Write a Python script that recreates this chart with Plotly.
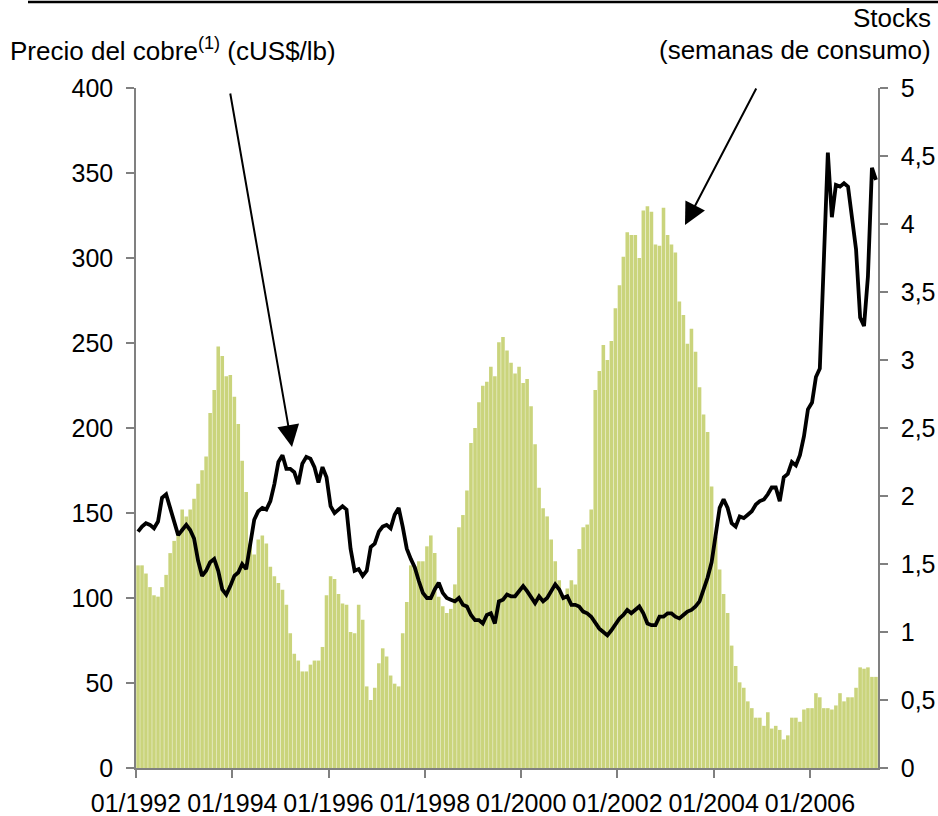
import pandas as pd
import plotly.graph_objects as go

# Stocks (semanas de consumo), monthly from 01/1992 to 05/2007
stocks = [
    1.49, 1.49, 1.43, 1.33, 1.27, 1.26, 1.33, 1.42, 1.58, 1.67, 1.73, 1.90,
    1.85, 1.90, 1.98, 2.09, 2.19, 2.29, 2.61, 2.78, 3.10, 3.03, 2.88, 2.89,
    2.73, 2.53, 2.26, 2.03, 1.65, 1.57, 1.68, 1.71, 1.65, 1.48, 1.41, 1.36,
    1.31, 1.20, 0.99, 0.84, 0.79, 0.71, 0.71, 0.76, 0.79, 0.79, 0.89, 1.27,
    1.41, 1.39, 1.28, 1.21, 1.20, 1.00, 0.99, 1.20, 1.09, 0.60, 0.50, 0.59,
    0.77, 0.88, 0.82, 0.68, 0.62, 0.60, 0.99, 1.22, 1.49, 1.48, 1.52, 1.52,
    1.63, 1.71, 1.58, 1.26, 1.19, 1.14, 1.17, 1.35, 1.77, 1.86, 2.04, 2.39,
    2.50, 2.69, 2.81, 2.84, 2.95, 2.88, 3.13, 3.17, 3.07, 2.98, 2.90, 2.95,
    2.83, 2.86, 2.66, 2.38, 2.06, 1.91, 1.85, 1.68, 1.52, 1.38, 1.26, 1.32,
    1.38, 1.35, 1.61, 1.77, 1.79, 1.90, 2.78, 2.92, 3.11, 3.00, 3.14, 3.38,
    3.55, 3.76, 3.94, 3.92, 3.92, 3.75, 4.10, 4.13, 4.09, 3.85, 3.84, 4.12,
    3.92, 3.85, 3.79, 3.43, 3.33, 3.12, 3.23, 3.06, 2.80, 2.60, 2.47, 2.07,
    1.70, 1.46, 1.28, 1.14, 0.90, 0.75, 0.63, 0.59, 0.49, 0.44, 0.37, 0.37,
    0.31, 0.41, 0.29, 0.31, 0.28, 0.21, 0.24, 0.37, 0.37, 0.34, 0.43, 0.44,
    0.44, 0.55, 0.52, 0.44, 0.44, 0.43, 0.46, 0.55, 0.49, 0.52, 0.52, 0.59,
    0.74, 0.73, 0.74, 0.67, 0.67,
]

# Precio del cobre (cUS$/lb), monthly from 01/1992 to 05/2007
price = [
    139, 142, 144, 143, 141, 145, 159, 161, 153, 144, 137, 140,
    143, 140, 135, 122, 113, 116, 121, 123, 116, 105, 102, 107,
    113, 115, 120, 117, 132, 146, 151, 153, 152, 157, 167, 180,
    184, 176, 176, 174, 167, 179, 183, 182, 177, 168, 177, 171,
    154, 150, 152, 154, 152, 129, 116, 117, 113, 116, 130, 132,
    139, 142, 143, 141, 149, 153, 142, 129, 123, 118, 110, 103,
    100, 100, 105, 109, 103, 100, 99, 98, 100, 96, 95, 90,
    87, 87, 85, 90, 91, 85, 98, 99, 102, 101, 101, 104,
    107, 104, 100, 97, 101, 98, 100, 104, 108, 105, 100, 101,
    96, 96, 95, 92, 91, 89, 85, 82, 80, 78, 81, 85,
    88, 90, 93, 91, 93, 95, 91, 85, 84, 84, 89, 89,
    91, 91, 89, 88, 90, 92, 93, 95, 98, 105, 112, 121,
    136, 153, 158, 153, 144, 142, 148, 147, 149, 151, 155, 157,
    158, 161, 165, 165, 157, 171, 173, 180, 178, 184, 195, 211,
    215, 230, 235, 295, 362, 324, 343, 342, 344, 342, 323, 305,
    265, 260, 289, 353, 346,
]

months = pd.date_range("1992-01-01", periods=len(stocks), freq="MS")

left_ticks = [0, 50, 100, 150, 200, 250, 300, 350, 400]
right_ticks = [0, 0.5, 1, 1.5, 2, 2.5, 3, 3.5, 4, 4.5, 5]
right_ticktext = ["0", "0,5", "1", "1,5", "2", "2,5", "3", "3,5", "4", "4,5", "5"]

FONT = "Liberation Sans, Arial, sans-serif"
AXIS = "#808080"

fig = go.Figure()
fig.add_trace(go.Bar(
    x=months, y=stocks, xperiod="M1", xperiodalignment="middle",
    marker=dict(color="#cad47c", line=dict(width=0)),
    yaxis="y", name="Stocks",
))
fig.add_trace(go.Scatter(
    x=months, y=price, xperiod="M1", xperiodalignment="middle",
    mode="lines", line=dict(color="black", width=3.8),
    yaxis="y2", name="Precio",
))

W, H = 938, 816
L, R = 136, 938 - 878
T, B = 88, 816 - 768
pw, ph = W - L - R, H - T - B

def px(x):
    return (x - L) / pw

def py(y):
    return (H - B - y) / ph

fig.update_layout(
    width=W, height=H,
    margin=dict(l=L, r=R, t=T, b=B, autoexpand=False),
    paper_bgcolor="white", plot_bgcolor="white",
    showlegend=False, bargap=0.08,
    font=dict(family=FONT, size=25, color="black"),
    xaxis=dict(
        type="date", range=["1992-01-01", "2007-06-01"],
        tick0="1992-01-01", dtick="M24", tickformat="%m/%Y",
        ticks="outside", ticklen=8, tickcolor=AXIS, tickwidth=1.5,
        showline=True, linecolor=AXIS, linewidth=1.5, automargin=False,
        showgrid=False, zeroline=False, ticklabelstandoff=4,
    ),
    yaxis=dict(
        side="right", range=[0, 5],
        tickvals=right_ticks, ticktext=right_ticktext,
        ticks="outside", ticklen=8, tickcolor=AXIS, tickwidth=1.5,
        showline=True, linecolor=AXIS, linewidth=1.5, automargin=False,
        showgrid=False, zeroline=False, ticklabelstandoff=8,
    ),
    yaxis2=dict(
        side="left", overlaying="y", range=[0, 400],
        tickvals=left_ticks,
        ticks="outside", ticklen=8, tickcolor=AXIS, tickwidth=1.5,
        showline=True, linecolor=AXIS, linewidth=1.5, automargin=False,
        showgrid=False, zeroline=False, ticklabelstandoff=8,
    ),
)

fig.add_shape(type="line", xref="paper", yref="paper",
              x0=px(28), x1=px(938), y0=py(2), y1=py(2),
              line=dict(color="black", width=2.5))

fig.add_annotation(xref="paper", yref="paper", x=px(8), y=py(50),
                   xanchor="left", yanchor="middle", showarrow=False,
                   text="Precio del cobre<sup>(1)</sup> (cUS$/lb)",
                   font=dict(size=26, family=FONT, color="black"))
fig.add_annotation(xref="paper", yref="paper", x=px(933), y=py(18),
                   xanchor="right", yanchor="middle", showarrow=False,
                   text="Stocks", font=dict(size=26, family=FONT, color="black"))
fig.add_annotation(xref="paper", yref="paper", x=px(933), y=py(50),
                   xanchor="right", yanchor="middle", showarrow=False,
                   text="(semanas de consumo)",
                   font=dict(size=26, family=FONT, color="black"))

# arrows
fig.add_annotation(xref="paper", yref="paper", x=px(292), y=py(447),
                   ax=230 - 292, ay=92 - 447, text="", showarrow=True,
                   arrowhead=2, arrowsize=2.2, arrowwidth=2, arrowcolor="black")
fig.add_annotation(xref="paper", yref="paper", x=px(685), y=py(225),
                   ax=757 - 685, ay=87 - 225, text="", showarrow=True,
                   arrowhead=2, arrowsize=2.2, arrowwidth=2, arrowcolor="black")

fig.write_html(
    "out.html",
    config={"displayModeBar": False},
    post_script="document.body.style.margin='0';document.body.style.overflow='hidden';",
)
